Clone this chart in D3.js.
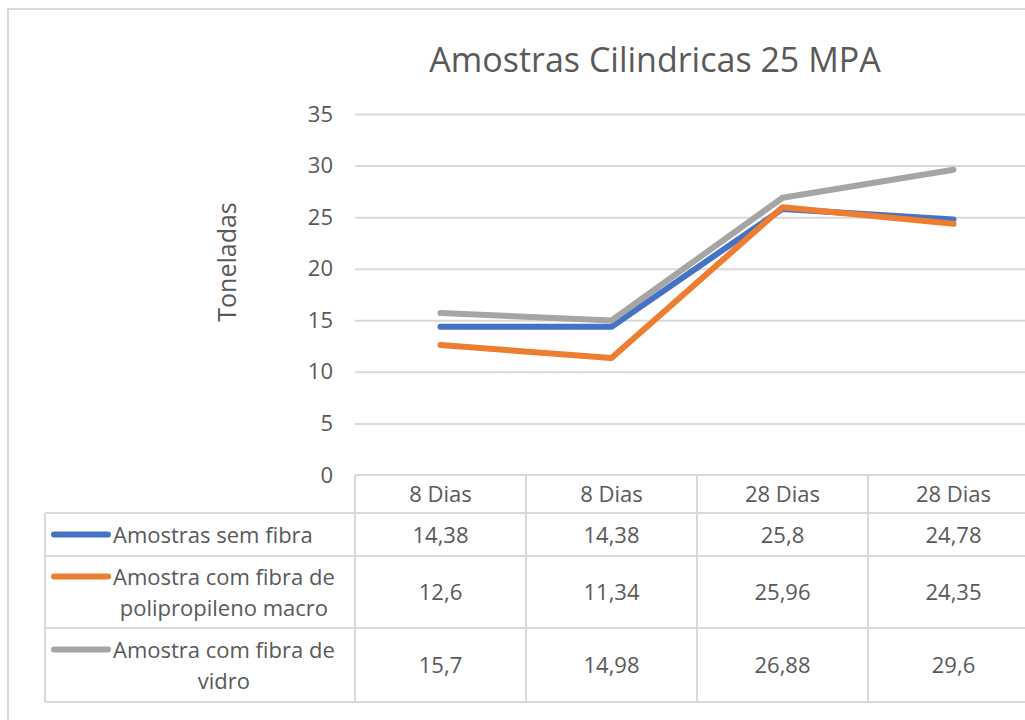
<!DOCTYPE html>
<html>
<head>
<meta charset="utf-8">
<script src="https://cdn.jsdelivr.net/npm/d3@7/dist/d3.min.js"></script>
<style>
  body { margin: 0; background: #fff; }
  text { font-family: "Open Sans", "Noto Sans", sans-serif; fill: #595959; }
</style>
</head>
<body>
<script>
/* Chart data */
var categories = ["8 Dias", "8 Dias", "28 Dias", "28 Dias"];
var seriesNames = [
  ["Amostras sem fibra"],
  ["Amostra com fibra de", "polipropileno macro"],
  ["Amostra com fibra de", "vidro"]
];
var semFibra = [14.38, 14.38, 25.8, 24.78];
var polipropileno = [12.6, 11.34, 25.96, 24.35];
var vidro = [15.7, 14.98, 26.88, 29.6];
var seriesLabels = [
  ["14,38", "14,38", "25,8", "24,78"],
  ["12,6", "11,34", "25,96", "24,35"],
  ["15,7", "14,98", "26,88", "29,6"]
];
var yTicks = [0, 5, 10, 15, 20, 25, 30, 35];
var colors = ["#4472C4", "#ED7D31", "#A5A5A5"];

var width = 1025, height = 720;
var svg = d3.select("body").append("svg")
    .attr("width", width)
    .attr("height", height);

/* outer chart border (left and top visible) */
svg.append("path")
    .attr("d", "M8,730 V9 H1040")
    .attr("fill", "none")
    .attr("stroke", "#D9D9D9")
    .attr("stroke-width", 2);

/* scales */
var x = d3.scaleBand()
    .domain(d3.range(categories.length))
    .range([355, 1039]);
var y = d3.scaleLinear()
    .domain([0, 35])
    .range([475, 114]);

/* title */
svg.append("text")
    .attr("x", 655).attr("y", 72)
    .attr("text-anchor", "middle")
    .style("font-size", "34px")
    .text("Amostras Cilindricas 25 MPA");

/* y axis title */
svg.append("text")
    .attr("transform", "translate(236,262) rotate(-90)")
    .attr("text-anchor", "middle")
    .style("font-size", "25px")
    .text("Toneladas");

/* gridlines and tick labels */
var yAxis = d3.axisLeft(y)
    .tickValues(yTicks)
    .tickSize(-(1039 - 355))
    .tickPadding(22);
var ga = svg.append("g")
    .attr("transform", "translate(355,0)")
    .call(yAxis);
ga.select(".domain").remove();
ga.selectAll(".tick line")
    .attr("stroke", "#D9D9D9")
    .attr("stroke-width", 2)
    .filter(function(d) { return d === 0; }).remove();
ga.selectAll(".tick text")
    .attr("fill", "#595959")
    .style("font-size", "22px")
    .style("font-family", "'Open Sans', sans-serif");

/* data table */
var rowBounds = [475, 513, 556, 628, 702];
var tableLeft = 45;
var grid = svg.append("g")
    .attr("stroke", "#D9D9D9")
    .attr("stroke-width", 2)
    .attr("fill", "none");
// horizontal lines
rowBounds.forEach(function(ry, i) {
  grid.append("line")
      .attr("x1", i === 0 ? 355 : tableLeft)
      .attr("x2", 1039)
      .attr("y1", ry).attr("y2", ry);
});
// vertical lines
grid.append("line")
    .attr("x1", tableLeft).attr("x2", tableLeft)
    .attr("y1", rowBounds[1]).attr("y2", rowBounds[4]);
d3.range(categories.length + 1).forEach(function(i) {
  var vx = i < categories.length ? x(i) : x(categories.length - 1) + x.bandwidth();
  grid.append("line")
      .attr("x1", vx).attr("x2", vx)
      .attr("y1", rowBounds[0]).attr("y2", rowBounds[4]);
});

/* header labels */
svg.selectAll(".cat")
    .data(categories)
    .enter().append("text")
    .attr("class", "cat")
    .attr("x", function(d, i) { return x(i) + x.bandwidth() / 2; })
    .attr("y", (rowBounds[0] + rowBounds[1]) / 2 + 8)
    .attr("text-anchor", "middle")
    .style("font-size", "22px")
    .text(function(d) { return d; });

/* value rows */
seriesLabels.forEach(function(vals, r) {
  var cy = (rowBounds[r + 1] + rowBounds[r + 2]) / 2;
  svg.selectAll(".val" + r)
      .data(vals)
      .enter().append("text")
      .attr("x", function(d, i) { return x(i) + x.bandwidth() / 2; })
      .attr("y", cy + 8)
      .attr("text-anchor", "middle")
      .style("font-size", "22px")
      .text(function(d) { return d; });

  // legend key, aligned with the first text line
  var lines = seriesNames[r];
  var lh = 31;
  var keyY = cy - (lines.length - 1) * lh / 2;
  svg.append("line")
      .attr("x1", 54).attr("x2", 108)
      .attr("y1", keyY).attr("y2", keyY)
      .attr("stroke", colors[r])
      .attr("stroke-width", 6)
      .attr("stroke-linecap", "round");
  // legend text: following lines centred on the first one
  var t = svg.append("text")
      .attr("x", 113)
      .attr("y", keyY + 8)
      .style("font-size", "22px")
      .text(lines[0]);
  var w0 = t.node().getComputedTextLength();
  lines.slice(1).forEach(function(l, k) {
    svg.append("text")
        .attr("x", 113 + w0 / 2)
        .attr("y", keyY + 8 + lh * (k + 1))
        .attr("text-anchor", "middle")
        .style("font-size", "22px")
        .text(l);
  });
});

/* lines */
var line = d3.line()
    .x(function(d, i) { return x(i) + x.bandwidth() / 2; })
    .y(function(d) { return y(d); });
[semFibra, polipropileno, vidro].forEach(function(s, i) {
  svg.append("path")
      .datum(s)
      .attr("d", line)
      .attr("fill", "none")
      .attr("stroke", colors[i])
      .attr("stroke-width", 6)
      .attr("stroke-linecap", "round")
      .attr("stroke-linejoin", "round");
});
</script>
</body>
</html>
